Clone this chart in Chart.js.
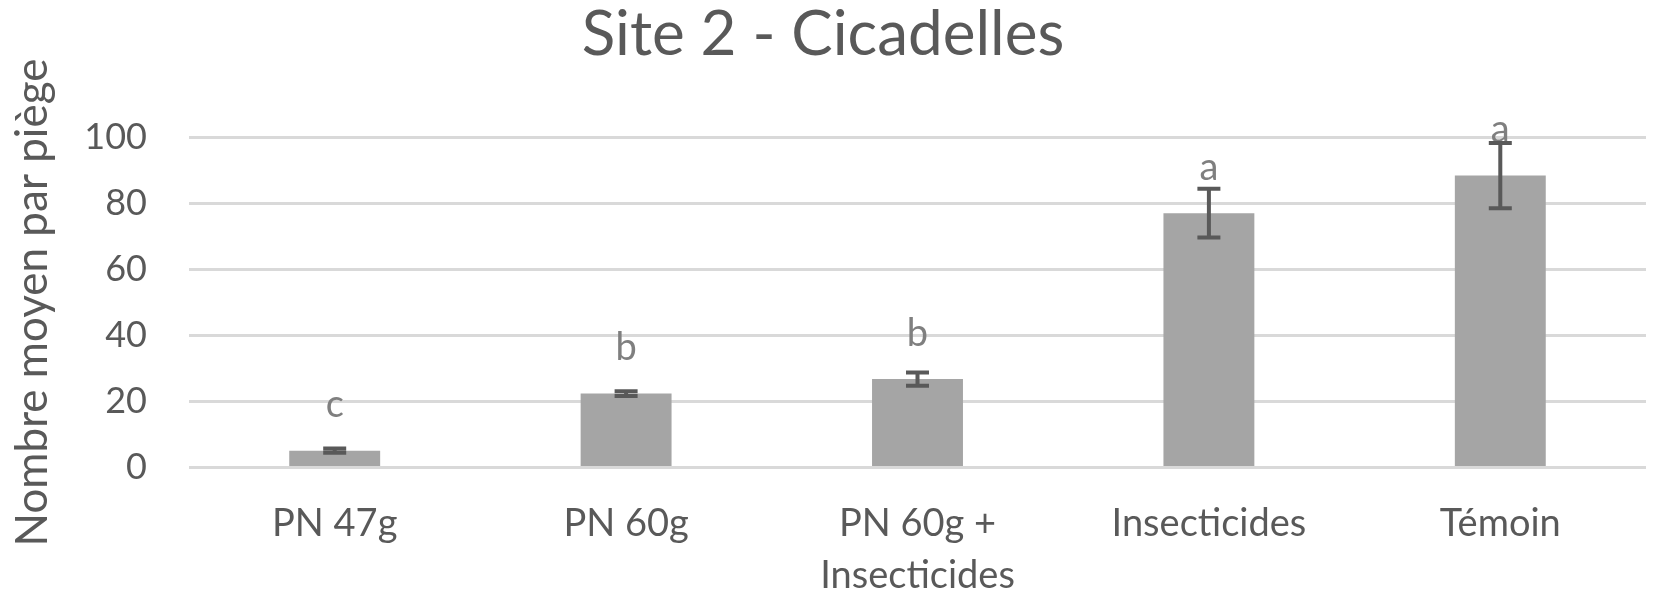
<!DOCTYPE html>
<html><head><meta charset="utf-8">
<script src="https://cdn.jsdelivr.net/npm/chart.js@4.4.0/dist/chart.umd.min.js"></script>
<style>html,body{margin:0;padding:0;background:#fff;overflow:hidden}#wrap{width:1665px;height:596px}</style>
</head><body><div id="wrap"><canvas id="c" width="1665" height="596"></canvas></div>
<script>
const categories = ["PN 47g", "PN 60g", ["PN 60g +", "Insecticides"], "Insecticides", "Témoin"];
const meanValues = [5.1, 22.4, 26.8, 77.1, 88.5];
const errorValues = [0.65, 0.7, 2.0, 7.4, 9.9];
const letters = ["c", "b", "b", "a", "a"];
const yMin = 0, yMax = 100, yStep = 20;

const FONT = "Lato, 'Open Sans', sans-serif";
const TEXT = "#595959";

const letterPlugin = {
  id: "letters",
  afterDatasetsDraw(chart) {
    const ctx = chart.ctx, meta = chart.getDatasetMeta(0);
    ctx.save();
    ctx.font = "38px " + FONT;
    ctx.fillStyle = "#7F7F7F";
    ctx.textAlign = "center";
    ctx.textBaseline = "alphabetic";
    meta.data.forEach((bar, i) => { ctx.fillText(letters[i], bar.x, bar.y - 33.5); });
    ctx.restore();
  }
};
const errorPlugin = {
  id: "errorBars",
  afterDatasetsDraw(chart) {
    const ctx = chart.ctx, ys = chart.scales.y, meta = chart.getDatasetMeta(0);
    ctx.save();
    ctx.strokeStyle = "#595959";
    ctx.lineWidth = 4;
    meta.data.forEach((bar, i) => {
      const hi = ys.getPixelForValue(meanValues[i] + errorValues[i]);
      const lo = ys.getPixelForValue(meanValues[i] - errorValues[i]);
      const x = bar.x, w = 11.5;
      ctx.beginPath();
      ctx.moveTo(x, hi); ctx.lineTo(x, lo);
      ctx.moveTo(x - w, hi); ctx.lineTo(x + w, hi);
      ctx.moveTo(x - w, lo); ctx.lineTo(x + w, lo);
      ctx.stroke();
    });
    ctx.restore();
  }
};

new Chart(document.getElementById("c"), {
  type: "bar",
  data: {
    labels: categories,
    datasets: [{ data: meanValues, backgroundColor: "#A5A5A5", borderWidth: 0,
      barPercentage: 0.312, categoryPercentage: 1 }]
  },
  options: {
    responsive: false, animation: false, devicePixelRatio: 1,
    layout: { padding: { left: 0, right: 19, top: 0, bottom: 0 } },
    plugins: {
      legend: { display: false }, tooltip: { enabled: false },
      title: { display: true, text: "Site 2 - Cicadelles", color: TEXT,
        font: { family: FONT, size: 62, weight: "normal", lineHeight: 1.0 },
        padding: { top: 4, bottom: 71.6 } }
    },
    scales: {
      x: {
        grid: { display: false, drawTicks: false }, border: { display: false },
        ticks: { color: TEXT, font: { family: FONT, size: 38, lineHeight: 1.37 }, padding: 30, maxRotation: 0, autoSkip: false },
        afterFit(s) { s.height = 128.5; }
      },
      y: {
        min: yMin, max: yMax,
        grid: { color: "#D9D9D9", lineWidth: 3, drawTicks: false }, border: { display: false },
        ticks: { stepSize: yStep, color: TEXT, font: { family: FONT, size: 36 }, padding: 42 },
        title: { display: true, text: "Nombre moyen par piège", color: TEXT,
          font: { family: FONT, size: 44, lineHeight: 1.2 }, padding: { top: 6.6, bottom: 0 } },
        afterFit(s) { s.width = 189; }
      }
    }
  },
  plugins: [letterPlugin, errorPlugin]
});
</script></body></html>
